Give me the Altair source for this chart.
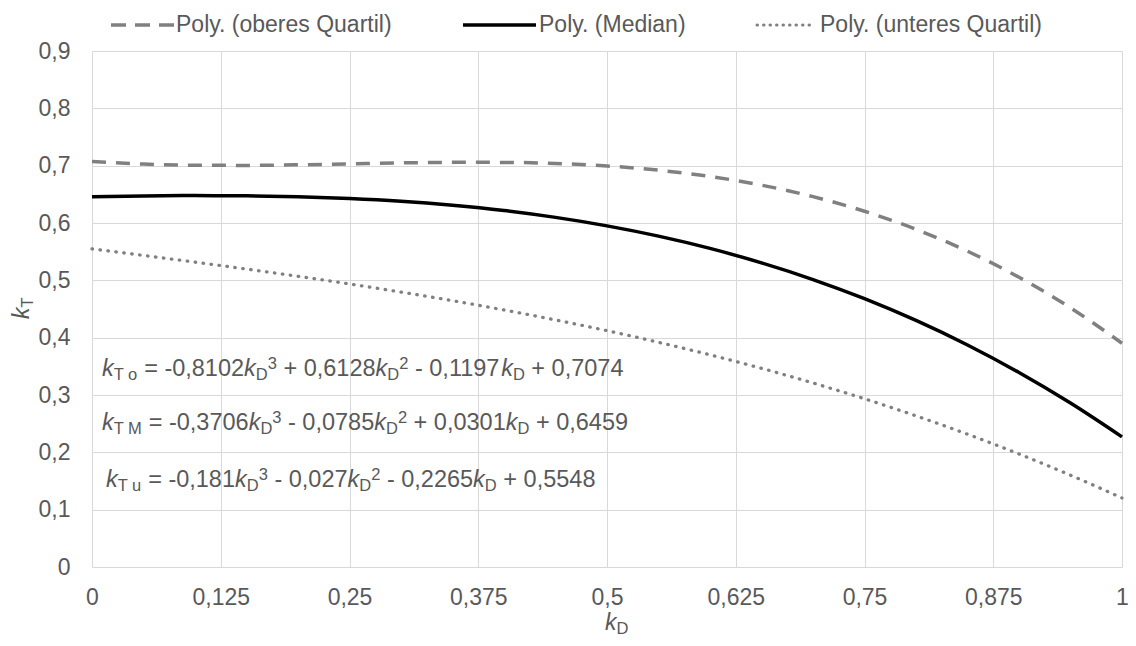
import altair as alt
import pandas as pd

# ---------------- data ----------------
kD = [0.00, 0.05, 0.10, 0.15, 0.20, 0.25, 0.30, 0.35, 0.40, 0.45, 0.50,
      0.55, 0.60, 0.65, 0.70, 0.75, 0.80, 0.85, 0.90, 0.95, 1.00]
kT_upper = [0.7074, 0.7028, 0.7007, 0.7005, 0.7015, 0.7031, 0.7048, 0.7058, 0.7057, 0.7038, 0.6995,
            0.6921, 0.6812, 0.6660, 0.6460, 0.6205, 0.5890, 0.5508, 0.5054, 0.4521, 0.3903]
kT_median = [0.6459, 0.6472, 0.6478, 0.6474, 0.6458, 0.6427, 0.6379, 0.6309, 0.6217, 0.6098, 0.5950,
             0.5771, 0.5557, 0.5305, 0.5014, 0.4680, 0.4300, 0.3872, 0.3392, 0.2859, 0.2269]
kT_lower = [0.5548, 0.5434, 0.5317, 0.5196, 0.5070, 0.4937, 0.4795, 0.4645, 0.4483, 0.4309, 0.4122,
            0.3919, 0.3701, 0.3465, 0.3209, 0.2934, 0.2636, 0.2316, 0.1971, 0.1601, 0.1203]
series_names = ["Poly. (oberes Quartil)", "Poly. (Median)", "Poly. (unteres Quartil)"]
x_ticks = [0, 0.125, 0.25, 0.375, 0.5, 0.625, 0.75, 0.875, 1]
y_ticks = [0, 0.1, 0.2, 0.3, 0.4, 0.5, 0.6, 0.7, 0.8, 0.9]

# equation texts: (text, kind) with kind n=normal, i=italic, sub, sup
equations = [
    [("k", "i"), ("T o", "sub"), (" = -0,8102", "n"), ("k", "i"), ("D", "sub"), ("3", "sup"),
     (" + 0,6128", "n"), ("k", "i"), ("D", "sub"), ("2", "sup"), (" - 0,1197", "n"),
     ("k", "i"), ("D", "sub"), (" + 0,7074", "n")],
    [("k", "i"), ("T M", "sub"), (" = -0,3706", "n"), ("k", "i"), ("D", "sub"), ("3", "sup"),
     (" - 0,0785", "n"), ("k", "i"), ("D", "sub"), ("2", "sup"), (" + 0,0301", "n"),
     ("k", "i"), ("D", "sub"), (" + 0,6459", "n")],
    [("k", "i"), ("T u", "sub"), (" = -0,181", "n"), ("k", "i"), ("D", "sub"), ("3", "sup"),
     (" - 0,027", "n"), ("k", "i"), ("D", "sub"), ("2", "sup"), (" - 0,2265", "n"),
     ("k", "i"), ("D", "sub"), (" + 0,5548", "n")],
]

# ---------------- layout / style ----------------
W, H = 1030, 516
PAD = {"left": 84, "top": 43, "right": 6, "bottom": 71}
FONT = "Liberation Sans"
TXT = "#595959"
GRID = "#d9d9d9"
GREYLINE = "#808080"
FS = 23
FS_EQ = 23.5
FS_SMALL = 16.5

ARIAL = {c: 556 for c in "0123456789"}
ARIAL.update({",": 278, " ": 278, "=": 584, "+": 584, "-": 333, "k": 500,
              "T": 611, "o": 556, "M": 833, "u": 556, "D": 722})


def tw(s, size):
    return sum(ARIAL[c] for c in s) / 1000.0 * size


def px2x(px):
    return px / W


def py2y(py):
    return 0.9 * (1 - py / H)


xs = alt.Scale(domain=[0, 1], nice=False, zero=False)
ys = alt.Scale(domain=[0, 0.9], nice=False, zero=False)

x_axis = alt.Axis(values=x_ticks, labelExpr="replace(format(datum.value, '~g'), '.', ',')",
                  grid=True, gridColor=GRID, gridWidth=1, domain=True, domainColor=GRID,
                  domainWidth=1, ticks=False, labelFont=FONT, labelFontSize=FS,
                  labelColor=TXT, labelPadding=19, labelFlush=False, title=None)
y_axis = alt.Axis(values=y_ticks, labelExpr="replace(format(datum.value, '~g'), '.', ',')",
                  grid=True, gridColor=GRID, gridWidth=1, domain=False, ticks=False,
                  labelFont=FONT, labelFontSize=FS, labelColor=TXT, labelPadding=22,
                  title=None)


def line_layer(vals, name, color, width, dash=None, cap="butt"):
    df = pd.DataFrame({"kD": kD, "kT": vals, "series": name})
    kw = dict(color=color, strokeWidth=width, strokeCap=cap, interpolate="monotone")
    if dash is not None:
        kw["strokeDash"] = dash
    return alt.Chart(df).mark_line(**kw).encode(
        x=alt.X("kD:Q", scale=xs, axis=x_axis),
        y=alt.Y("kT:Q", scale=ys, axis=y_axis),
    )


upper = line_layer(kT_upper, series_names[0], GREYLINE, 3.5, dash=[14, 10])
median = line_layer(kT_median, series_names[1], "#000000", 3.5)
lower = line_layer(kT_lower, series_names[2], GREYLINE, 3.3, dash=[0.5, 7.5], cap="round")

# ---------------- legend (manual) ----------------
one = pd.DataFrame({"a": [0]})
LEG_Y = -26
leg_specs = [
    (series_names[0], 19, 82, 84, dict(color=GREYLINE, strokeWidth=3.5, strokeDash=[15, 9])),
    (series_names[1], 371, 444, 447, dict(color="#000000", strokeWidth=3.5)),
    (series_names[2], 665, 723, 728, dict(color=GREYLINE, strokeWidth=3, strokeDash=[0.5, 6], strokeCap="round")),
]
legend_layers = []
for name, x0, x1, xt, style in leg_specs:
    legend_layers.append(alt.Chart(one).mark_rule(**style).encode(
        x=alt.value(x0), x2=alt.value(x1), y=alt.value(LEG_Y)))
    legend_layers.append(alt.Chart(one).mark_text(
        text=name, align="left", baseline="middle", font=FONT, fontSize=FS, color=TXT
    ).encode(x=alt.value(xt), y=alt.value(LEG_Y)))

# ---------------- equations ----------------
eq_start = [10, 10, 14]
eq_base = [325, 379, 436]
rows = []
for eq, x0, base in zip(equations, eq_start, eq_base):
    x = x0
    for txt, kind in eq:
        size = FS_SMALL if kind in ("sub", "sup") else FS_EQ
        body = txt.lstrip(" ")
        lead = len(txt) - len(body)
        dy = {"sub": 4, "sup": -7}.get(kind, 0)
        rows.append(dict(t=body, xd=px2x(x + tw(" " * lead, size)), yd=py2y(base + dy),
                         size=size, italic=(kind == "i")))
        x += tw(txt, size)
eq_df = pd.DataFrame(rows)


def eq_layer(df, italic):
    return alt.Chart(df).mark_text(
        align="left", baseline="alphabetic", font=FONT, color=TXT,
        fontStyle="italic" if italic else "normal"
    ).encode(
        x=alt.X("xd:Q", scale=xs, axis=x_axis),
        y=alt.Y("yd:Q", scale=ys, axis=y_axis),
        size=alt.Size("size:Q", scale=None, legend=None),
        text="t:N",
    )


eq_norm = eq_layer(eq_df[~eq_df["italic"]], False)
eq_ital = eq_layer(eq_df[eq_df["italic"]], True)

# ---------------- axis titles (k_T, k_D) ----------------
YT_X, YT_Y = -63, 268
XT_X, XT_Y = 513, 579
titles = [
    alt.Chart(one).mark_text(text="k", fontStyle="italic", angle=270, align="left",
                             baseline="alphabetic", font=FONT, fontSize=FS, color=TXT
                             ).encode(x=alt.value(YT_X), y=alt.value(YT_Y)),
    alt.Chart(one).mark_text(text="T", angle=270, align="left",
                             baseline="alphabetic", font=FONT, fontSize=FS_SMALL, color=TXT
                             ).encode(x=alt.value(YT_X + 4), y=alt.value(YT_Y - tw("k", FS))),
    alt.Chart(one).mark_text(text="k", fontStyle="italic", align="left",
                             baseline="alphabetic", font=FONT, fontSize=FS, color=TXT
                             ).encode(x=alt.value(XT_X), y=alt.value(XT_Y)),
    alt.Chart(one).mark_text(text="D", align="left",
                             baseline="alphabetic", font=FONT, fontSize=FS_SMALL, color=TXT
                             ).encode(x=alt.value(XT_X + tw("k", FS)), y=alt.value(XT_Y + 4)),
]

chart = alt.layer(
    upper, median, lower, eq_norm, eq_ital, *legend_layers, *titles
).properties(
    width=W, height=H,
    padding=PAD,
    autosize=alt.AutoSizeParams(type="none"),
    background="white",
).configure_view(stroke=None)

chart.save("out.html", embed_options={"renderer": "svg", "actions": False})
